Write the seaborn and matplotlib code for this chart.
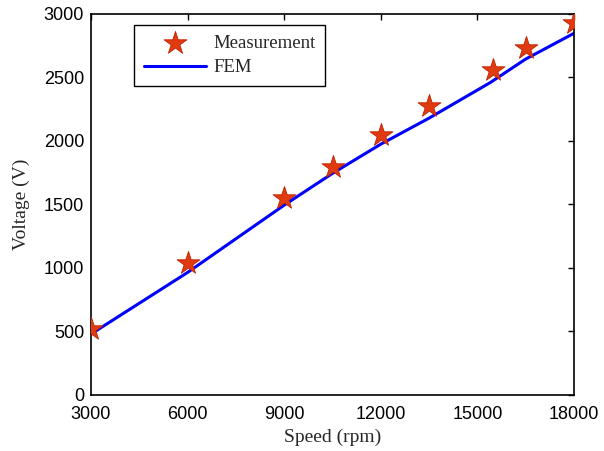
import numpy as np
import matplotlib.pyplot as plt
import pandas as pd
import seaborn as sns

meas_speed = [3000, 6000, 9000, 10500, 12000, 13500, 15500, 16500, 18000]
meas_volt = [517, 1037, 1553, 1798, 2047, 2276, 2559, 2730, 2932]

# FEM curve
fem_speed = [3000, 6000, 9000, 10500, 12000, 13500, 15400, 16500, 18000]
fem_volt = [480, 965, 1495, 1745, 1975, 2180, 2460, 2645, 2848]

xticks = [3000, 6000, 9000, 12000, 15000, 18000]
yticks = [0, 500, 1000, 1500, 2000, 2500, 3000]

df_meas = pd.DataFrame({"speed": meas_speed, "volt": meas_volt})
df_fem = pd.DataFrame({"speed": fem_speed, "volt": fem_volt})

sns.set_style("white")
plt.rcParams['font.family'] = ['Liberation Sans', 'DejaVu Sans']
serif = ['Liberation Serif', 'DejaVu Serif']

fig = plt.figure(figsize=(6.04, 4.51), dpi=100)
ax = fig.add_axes([0.1507, 0.1242, 0.7996, 0.8448])

sns.lineplot(data=df_fem, x="speed", y="volt", ax=ax, color="#0000ff",
             linewidth=2.2, label="FEM", zorder=2)
sns.scatterplot(data=df_meas, x="speed", y="volt", ax=ax, marker="*", s=300,
                color="#e03a10", edgecolor="#c02000", linewidth=0.6,
                label="Measurement", zorder=3)

ax.set_xlim(3000, 18000)
ax.set_ylim(0, 3000)
ax.set_xticks(xticks)
ax.set_yticks(yticks)
ax.tick_params(direction="in", length=4, width=1, top=True, right=True,
               labelsize=13, colors="black")
ax.tick_params(axis="x", pad=8)
ax.tick_params(axis="y", pad=5)
for s in ax.spines.values():
    s.set_color("black")
    s.set_linewidth(1.2)

ax.set_xlabel("Speed (rpm)", fontsize=14, family=serif, labelpad=4)
ax.set_ylabel("Voltage (V)", fontsize=14, family=serif, labelpad=10)

# legend: measurement first, then FEM
handles, labels = ax.get_legend_handles_labels()
order = [labels.index("Measurement"), labels.index("FEM")]
leg = ax.legend([handles[i] for i in order], [labels[i] for i in order],
                loc="upper left", bbox_to_anchor=(0.09, 0.971),
                borderaxespad=0, fancybox=False, edgecolor="black",
                framealpha=1, handlelength=3.3, handletextpad=0.4,
                borderpad=0.5, labelspacing=0.4,
                prop={"family": serif, "size": 13.5})
leg.get_frame().set_linewidth(1.0)

plt.savefig("out.png", dpi=100)
